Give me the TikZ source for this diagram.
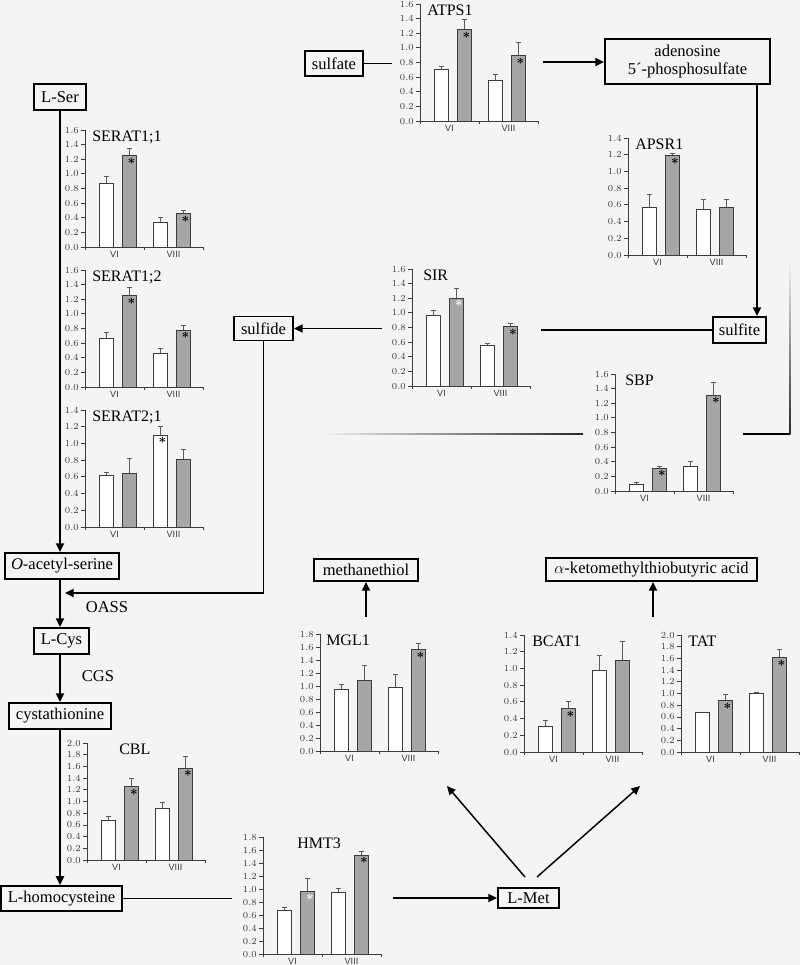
\documentclass[tikz,border=0pt]{standalone}
\usepackage{fontspec}
\setmainfont{Liberation Serif}
\newfontfamily\axfont{Liberation Sans}
\usetikzlibrary{arrows.meta}
\definecolor{bg}{HTML}{F4F4F4}
\definecolor{barg}{HTML}{A6A6A6}
\definecolor{edgec}{HTML}{3C3C3C}
\definecolor{errc}{HTML}{5A5A5A}
\tikzset{
 box/.style={draw=black, line width=1.4pt, fill=bg, inner sep=0pt, font=\fontsize{12.4}{14}\selectfont, align=center},
 conn/.style={line width=1.3pt, draw=black},
 arr/.style={conn, -{Triangle[length=6.5pt,width=6pt]}},
 axisline/.style={draw=edgec, line width=0.6pt},
 ticklab/.style={font=\axfont\fontsize{6.8}{7}\selectfont, text=edgec, inner sep=0pt},
 ctitle/.style={font=\fontsize{12}{12}\selectfont, inner sep=0pt, anchor=base west},
 wbar/.style={fill=white, draw=edgec, line width=0.7pt},
 gbar/.style={fill=barg, draw=edgec, line width=0.7pt},
 errl/.style={draw=errc, line width=0.7pt},
 bstar/.style={text=black},
 wstar/.style={text=white},
 nostar/.style={opacity=0},
 lbl/.style={font=\fontsize{12.4}{14}\selectfont, inner sep=0pt},
}
% #1 name, #2 ax, #3 y0, #4 ymax, #5 nticks, #6 title, #7 title dx, #8 bars
\newcommand{\bchart}[8]{%
\begin{scope}[shift={(#2,#3)}]
 \draw[axisline] (0,0) -- (0,-117);
 \foreach \i in {0,...,#5}{
   \pgfmathsetmacro\vv{\i*#4/#5}
   \pgfmathsetmacro\yy{-\i*117/#5}
   \draw[axisline] (-4,\yy) -- (0,\yy);
   \node[ticklab, anchor=east] at (-6,\yy) {\pgfmathprintnumber[fixed,fixed zerofill,precision=1]{\vv}};
 }
 \draw[axisline] (0,0) -- (118,0);
 \foreach \xx in {0,59,118} \draw[axisline] (\xx,0) -- (\xx,3);
 \node[ticklab, anchor=north] at (29.5,3.5) {VI};
 \node[ticklab, anchor=north] at (88.5,3.5) {VIII};
 \node[ctitle] (#1) at (#7,-106) {#6};
 \foreach \xo/\bval/\berr/\bs/\sk in {#8}{
   \pgfmathsetmacro\yt{-\bval*117/#4}
   \pgfmathsetmacro\ye{-\berr*117/#4}
   \draw[errl] (\xo+7,\yt) -- (\xo+7,\ye) (\xo+4.5,\ye) -- (\xo+9.5,\ye);
   \draw[\bs] (\xo,0) rectangle (\xo+14,\yt);
   \node[\sk, font=\fontsize{10}{10}\selectfont, inner sep=0pt] at (\xo+9.5,\yt+5.5) {$\boldsymbol{\ast}$};
 }
\end{scope}}
\usepackage{amsmath,amssymb,bm}
\begin{document}
\begin{tikzpicture}[x=0.75pt,y=-0.75pt]
\useasboundingbox (0,0) rectangle (800,965);
\fill[bg] (0,0) rectangle (800,965);

% charts
\bchart{tATPS}{420}{121}{1.6}{8}{ATPS1}{7}{14/0.70/0.75/wbar/nostar, 37/1.25/1.39/gbar/bstar, 68/0.56/0.63/wbar/nostar, 91/0.89/1.08/gbar/bstar}
\bchart{tSERa}{85}{247}{1.6}{8}{SERAT1;1}{7}{14/0.87/0.97/wbar/nostar, 37/1.25/1.35/gbar/bstar, 68/0.34/0.40/wbar/nostar, 91/0.46/0.50/gbar/bstar}
\bchart{tSERb}{85}{387}{1.6}{8}{SERAT1;2}{7}{14/0.67/0.74/wbar/nostar, 37/1.25/1.36/gbar/bstar, 68/0.46/0.53/wbar/nostar, 91/0.78/0.84/gbar/bstar}
\bchart{tSERc}{85}{527}{1.4}{7}{SERAT2;1}{7}{14/0.62/0.65/wbar/nostar, 37/0.64/0.82/gbar/nostar, 68/1.10/1.20/wbar/bstar, 91/0.81/0.93/gbar/nostar}
\bchart{tAPSR}{628}{255}{1.4}{7}{APSR1}{7}{14.5/0.57/0.72/wbar/nostar, 37.5/1.19/1.21/gbar/bstar, 68.5/0.55/0.66/wbar/nostar, 91.5/0.57/0.67/gbar/nostar}
\bchart{tSIR}{412}{386}{1.6}{8}{SIR}{11}{14.5/0.96/1.03/wbar/nostar, 37.5/1.20/1.34/gbar/wstar, 68.5/0.55/0.58/wbar/nostar, 91.5/0.81/0.86/gbar/bstar}
\bchart{tSBP}{615}{491}{1.6}{8}{SBP}{10}{14.5/0.09/0.11/wbar/nostar, 37.5/0.31/0.34/gbar/bstar, 68.5/0.33/0.40/wbar/nostar, 91.5/1.31/1.49/gbar/bstar}
\bchart{tMGL}{320}{751}{1.8}{9}{MGL1}{6}{14/0.95/1.03/wbar/nostar, 37/1.09/1.32/gbar/nostar, 68/0.98/1.17/wbar/nostar, 91/1.56/1.65/gbar/bstar}
\bchart{tBCAT}{524}{752}{1.4}{7}{BCAT1}{8}{14/0.31/0.38/wbar/nostar, 37/0.52/0.60/gbar/bstar, 68/0.97/1.15/wbar/nostar, 91/1.10/1.32/gbar/nostar}
\bchart{tTAT}{681}{752}{2.0}{10}{TAT}{7}{14/0.67/0.68/wbar/nostar, 37/0.88/0.98/gbar/bstar, 68/1.00/1.01/wbar/nostar, 91/1.61/1.76/gbar/bstar}
\bchart{tCBL}{87}{860}{2.0}{10}{CBL}{32}{14.5/0.68/0.75/wbar/nostar, 37.5/1.25/1.40/gbar/bstar, 68.5/0.88/0.99/wbar/nostar, 91.5/1.57/1.77/gbar/bstar}
\bchart{tHMT}{263}{954}{1.8}{9}{HMT3}{34}{14.5/0.67/0.72/wbar/nostar, 37.5/0.96/1.16/gbar/wstar, 68.5/0.95/1.01/wbar/nostar, 91.5/1.52/1.58/gbar/bstar}

% boxes
\node[box, minimum width=39pt, minimum height=19.5pt] (Lser) at (60,97) {L-Ser};
\node[box, minimum width=43.5pt, minimum height=18.75pt] (sulfate) at (334,63.5) {sulfate};
\node[box, minimum width=123.75pt, minimum height=33.75pt] (aps) at (687.5,61.5) {adenosine\\5´-phosphosulfate};
\node[box, minimum width=39.75pt, minimum height=19.5pt] (sulfite) at (739.5,330) {sulfite};
\node[box, minimum width=44.25pt, minimum height=18pt] (sulfide) at (263.5,328.5) {sulfide};
\node[box, minimum width=85.5pt, minimum height=19.5pt] (Oas) at (62,566) {\textit{O}-acetyl-serine};
\node[box, minimum width=41.25pt, minimum height=19.5pt] (Lcys) at (61.5,641) {L-Cys};
\node[box, minimum width=76.5pt, minimum height=19.5pt] (cysta) at (60,716) {cystathionine};
\node[box, minimum width=90.75pt, minimum height=19pt] (Lhomo) at (61.5,898.5) {L-homocysteine};
\node[box, minimum width=45.75pt, minimum height=15.5pt] (Lmet) at (528.5,898) {L-Met};
\node[box, minimum width=78pt, minimum height=16.5pt] (meth) at (366,570) {methanethiol};
\node[box, minimum width=158.25pt, minimum height=17.25pt] (keto) at (651.5,569.5) {$\alpha$-ketomethylthiobutyric acid};

\node[lbl] (oass) at (107,607) {OASS};
\node[lbl] (cgs) at (98,676) {CGS};

% connectors
\coordinate (vx) at (60,0);
\draw[arr] (vx |- Lser.south) -- (vx |- Oas.north);
\draw[arr] (vx |- Oas.south) -- (vx |- Lcys.north);
\draw[arr] (vx |- Lcys.south) -- (vx |- cysta.north);
\draw[arr] (vx |- cysta.south) -- (vx |- Lhomo.north);

\coordinate (c1) at (392,63.5);
\draw[conn] (sulfate.east) -- (c1);
\coordinate (c2) at (543,62);
\draw[arr] (c2) -- (c2 -| aps.west);
\coordinate (c3) at (757,0);
\draw[arr] (c3 |- aps.south) -- (c3 |- sulfite.north);
\coordinate (c4) at (541,330);
\draw[conn] (sulfite.west) -- (c4 |- sulfite.west);
\coordinate (c5) at (382,328.5);
\draw[arr] (c5) -- (sulfide.east);
\coordinate (c6) at (65,593);
\draw[arr] (sulfide.south) |- (c6);

\coordinate (c7) at (232,898.5);
\draw[conn] (Lhomo.east) -- (c7);
\coordinate (c8) at (393,898);
\draw[arr] (c8) -- (Lmet.west);
\coordinate (m1) at (525,877);
\coordinate (m2) at (537,877);
\coordinate (c9) at (447,786);
\coordinate (c10) at (640,786);
\draw[arr, line width=1.1pt] (m1) -- (c9);
\draw[arr, line width=1.1pt] (m2) -- (c10);
\coordinate (c11) at (366,617);
\draw[arr] (c11) -- (meth.south);
\coordinate (c12) at (653,617);
\draw[arr] (c12) -- (c12 |- keto.south);

% faded SBP lines
\shade[left color=bg, right color=black!85] (320,433.4) rectangle (583,434.8);
\draw[line width=1pt] (743,434) -- (790,434);
\shade[top color=bg, bottom color=black!85] (789.3,262) rectangle (790.7,434.6);
\end{tikzpicture}
\end{document}
